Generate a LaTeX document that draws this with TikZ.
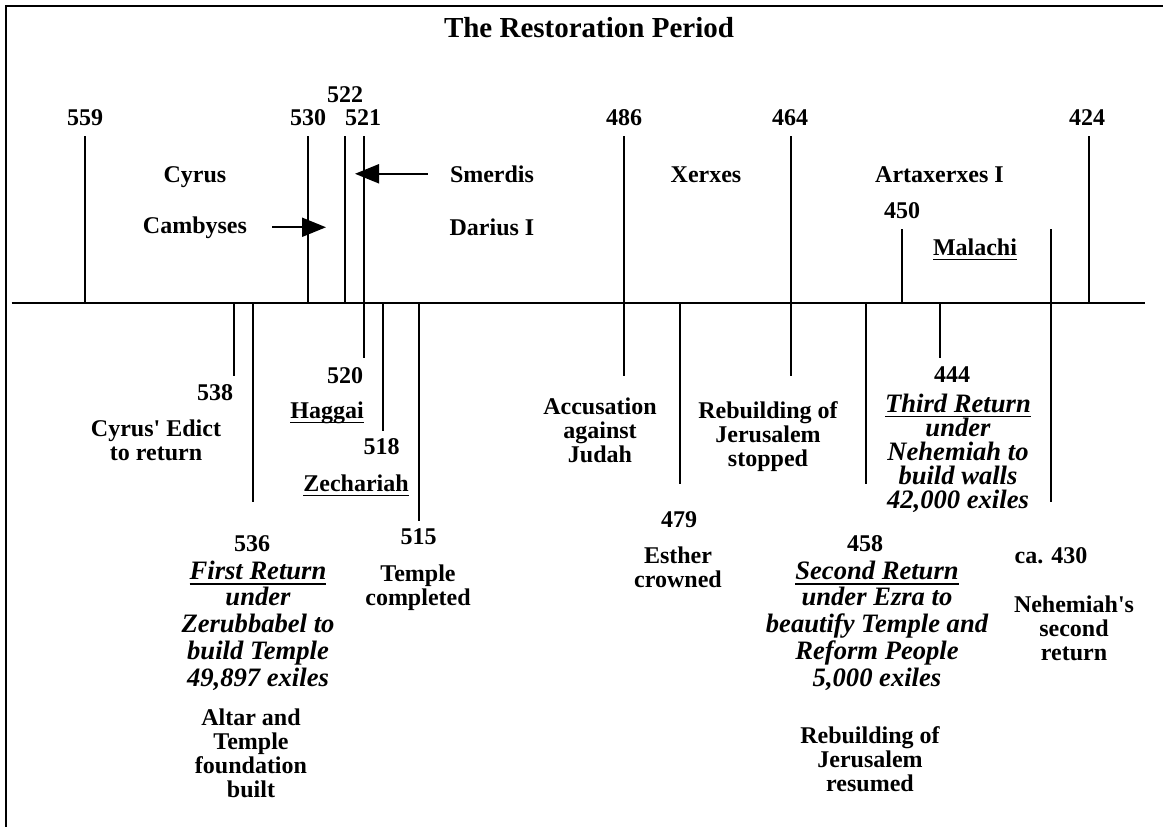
\documentclass[tikz,border=0pt]{standalone}
\usepackage{fontspec}
\setmainfont{Liberation Serif}
\usetikzlibrary{arrows.meta}

% underline sitting a little below the baseline
\newcommand{\ulword}[1]{\setbox0=\hbox{#1}\rlap{\rule[-5.3pt]{\wd0}{1.8pt}}\box0}
% straight apostrophe, kept out of the TeX quote mapping
\newcommand{\sq}{\XeTeXglyph\XeTeXcharglyph"27\relax}

\begin{document}
\begin{tikzpicture}[x=1pt, y=-1pt]
      \tikzset{
        every node/.style={inner sep=0pt, anchor=base},
        year/.style={font=\fontsize{24}{24}\selectfont\bfseries},
        event/.style={align=center, font=\fontsize{24}{24}\selectfont\bfseries},
        story/.style={align=center, font=\fontsize{26.6}{26.7}\selectfont\bfseries\itshape},
        yearline/.style={line width=2pt},
        bigarrow/.style={line width=2pt, -{Triangle[length=24pt, width=19pt]}}
      }
      \useasboundingbox (0,0) rectangle (1163,827);

      % Frame (only top and left edges show).
      \draw[line width=2pt] (5.7,827) -- (5.7,5.7) -- (1163,5.7);

      % Title.
      \node[font=\fontsize{29}{29}\selectfont\bfseries]
        (title) at (589,37)
        {The Restoration Period};

      % The time line.
      \draw[line width=2.5pt] (11.5,303) -- (1144.5,303);

      % Year marks above the line.
      \draw[yearline] (85,136) -- (85,303);       % 559
      \draw[yearline] (308,136) -- (308,303);     % 530
      \draw[yearline] (345,136) -- (345,303);     % 522
      \draw[yearline] (363.6,136) -- (363.6,358); % 521 and 520
      \draw[yearline] (624,136) -- (624,376);     % 486
      \draw[yearline] (791,136) -- (791,376);     % 464
      \draw[yearline] (1088.6,136) -- (1088.6,303); % 424
      \draw[yearline] (902,229) -- (902,303);     % 450
      \draw[yearline] (1051.4,229) -- (1051.4,502); % ca. 430

      % Year marks below the line.
      \draw[yearline] (234.2,303) -- (234.2,376); % 538
      \draw[yearline] (252.6,303) -- (252.6,502); % 536
      \draw[yearline] (382.7,303) -- (382.7,431); % 518
      \draw[yearline] (419.4,303) -- (419.4,521); % 515
      \draw[yearline] (679.6,303) -- (679.6,484); % 479
      \draw[yearline] (866,303) -- (866,484);     % 458
      \draw[yearline] (939.5,303) -- (939.5,358); % 444

      % Years above the line.
      \node[year] (y559) at (85,125) {559};
      \node[year] (y530) at (308,125) {530};
      \node[year] (y522) at (345,102) {522};
      \node[year] (y521) at (363,125) {521};
      \node[year] (y486) at (624,125) {486};
      \node[year] (y464) at (790,125) {464};
      \node[year] (y424) at (1087,125) {424};
      \node[year] (y450) at (902,218) {450};

      % Kings and prophet above the line.
      \node[event] (cyrus) at (195,182) {Cyrus};
      \node[event] (cambyses) at (195,233) {Cambyses};
      \node[event] (smerdis) at (492,182) {Smerdis};
      \node[event] (darius) at (492,235) {Darius I};
      \node[event] (xerxes) at (706,182) {Xerxes};
      \node[event] (artaxerxes) at (939.5,182) {Artaxerxes I};
      \node[event] (malachi) at (975,255) {\ulword{Malachi}};

      % Events below the line, left part (multi-line texts sit on their last line).
      \node[year] (y538) at (215,400) {538};
      \node[event] (edict) at (156,460) {Cyrus\sq{} Edict\\to return};
      \node[year] (y520) at (345,383) {520};
      \node[event] (haggai) at (327,418) {\ulword{Haggai}};
      \node[year] (y518) at (381.5,454) {518};
      \node[event] (zechariah) at (356,491) {\ulword{Zechariah}};
      \node[year] (y515) at (418.5,544) {515};
      \node[event] (completed) at (418,605) {Temple\\completed};
      \node[year] (y536) at (252,551) {536};
      \node[story]
        (first) at (258,686)
        {\ulword{First Return}\\under\\Zerubbabel to\\build Temple\\49,897 exiles};
      \node[event]
        (altar) at (251,797)
        {Altar and\\Temple\\foundation\\built};

      % Events below the line, right part.
      \node[event] (accusation) at (600,462) {Accusation\\against\\Judah};
      \node[event] (stopped) at (768,466) {Rebuilding of\\Jerusalem\\stopped};
      \node[year] (y479) at (679,527) {479};
      \node[event] (esther) at (678,587) {Esther\\crowned};
      \node[year] (y444) at (952,382) {444};
      \node[story, font=\fontsize{26.6}{24}\selectfont\bfseries\itshape]
        (third) at (958,508)
        {\ulword{Third Return}\\under\\Nehemiah to\\build walls\\42,000 exiles};
      \node[year] (y458) at (865,551) {458};
      \node[story]
        (second) at (877,686)
        {\ulword{Second Return}\\under Ezra to\\beautify Temple and\\Reform People\\5,000 exiles};
      \node[event] (resumed) at (870,791) {Rebuilding of\\Jerusalem\\resumed};
      \node[year] (y430) at (1051,563) {ca. 430};
      \node[event] (nehemiah) at (1074,660) {Nehemiah\sq{}s\\second\\return};

      % Arrows pointing at the short reigns.
      \coordinate (smerdis tip) at (355,174);
      \coordinate (cambyses tip) at (326,229);
      \draw[bigarrow] ([xshift=-22pt]smerdis.west) -- (smerdis.west -| smerdis tip);
      \draw[bigarrow] ([xshift=25pt]cambyses.east) -- (cambyses.east -| cambyses tip);
    \end{tikzpicture}
\end{document}
